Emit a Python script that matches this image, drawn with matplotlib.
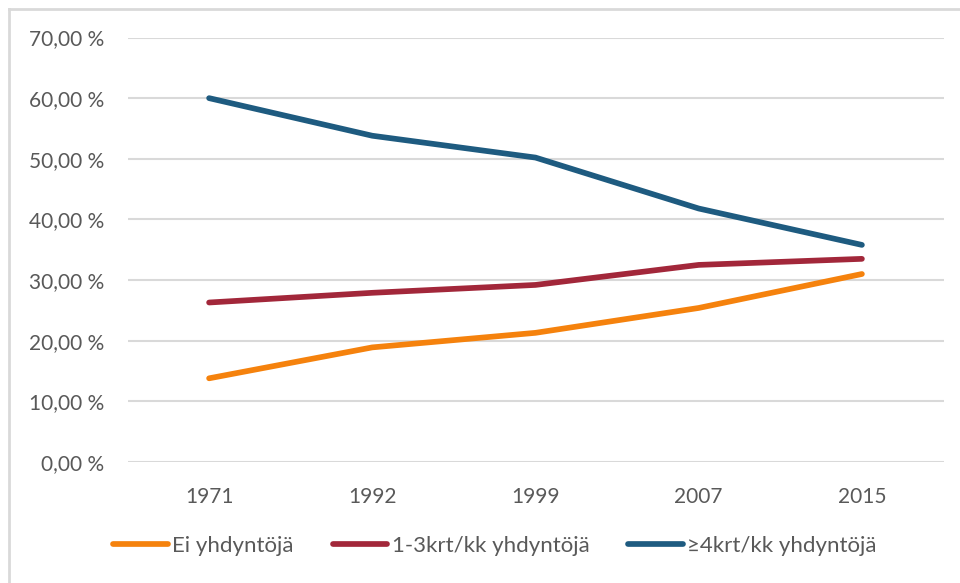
import matplotlib
matplotlib.use("Agg")
import matplotlib.pyplot as plt
from matplotlib.lines import Line2D
from matplotlib.ticker import FuncFormatter

years = ["1971", "1992", "1999", "2007", "2015"]
ei = [13.8, 18.9, 21.3, 25.4, 31.0]
krt13 = [26.3, 27.9, 29.2, 32.5, 33.5]
krt4 = [60.0, 53.8, 50.2, 41.8, 35.8]
labels = ["Ei yhdyntöjä", "1-3krt/kk yhdyntöjä", "≥4krt/kk yhdyntöjä"]
colors = ["#F5820D", "#A2273A", "#1E5B80"]
yticks = [0, 10, 20, 30, 40, 50, 60, 70]

plt.rcParams['font.family'] = ['Lato', 'DejaVu Sans']
txt = "#595959"

fig = plt.figure(figsize=(9.6, 5.83), dpi=100)
ax = fig.add_axes([127.5 / 960, 1 - 462 / 583, 816 / 960, (462 - 37.5) / 583])

x = list(range(len(years)))
for vals, lab, c in zip([ei, krt13, krt4], labels, colors):
    ax.plot(x, vals, color=c, lw=4.1, solid_capstyle='round', solid_joinstyle='round', label=lab, zorder=3)

ax.set_xlim(-0.5, len(years) - 0.5)
ax.set_ylim(0, 70)
ax.set_yticks(yticks)
ax.yaxis.set_major_formatter(FuncFormatter(lambda v, p: f"{v:.2f}".replace(".", ",") + " %"))
ax.set_xticks(x)
ax.set_xticklabels(years)
ax.grid(axis='y', color="#d9d9d9", lw=1.5, zorder=0)
for s in ax.spines.values():
    s.set_visible(False)
ax.tick_params(axis='both', length=0, labelsize=15, colors=txt)
ax.tick_params(axis='y', pad=17)
ax.tick_params(axis='x', pad=18)

handles = [Line2D([0], [0], color=c, lw=4.1, solid_capstyle='round') for c in colors]
fig.legend(handles, labels, loc='center', bbox_to_anchor=(495 / 960, 1 - 546 / 583),
           ncol=3, frameon=False, fontsize=16, handlelength=2.45, handletextpad=0.2,
           columnspacing=1.75, labelcolor=txt)

# outer frame (left and top edges visible)
fig.add_artist(Line2D([8.5 / 960, 8.5 / 960], [0, 1 - 8.5 / 583], transform=fig.transFigure, color="#d9d9d9", lw=2))
fig.add_artist(Line2D([8.5 / 960, 1], [1 - 8.5 / 583, 1 - 8.5 / 583], transform=fig.transFigure, color="#d9d9d9", lw=2))

fig.savefig("out.png", dpi=100)
